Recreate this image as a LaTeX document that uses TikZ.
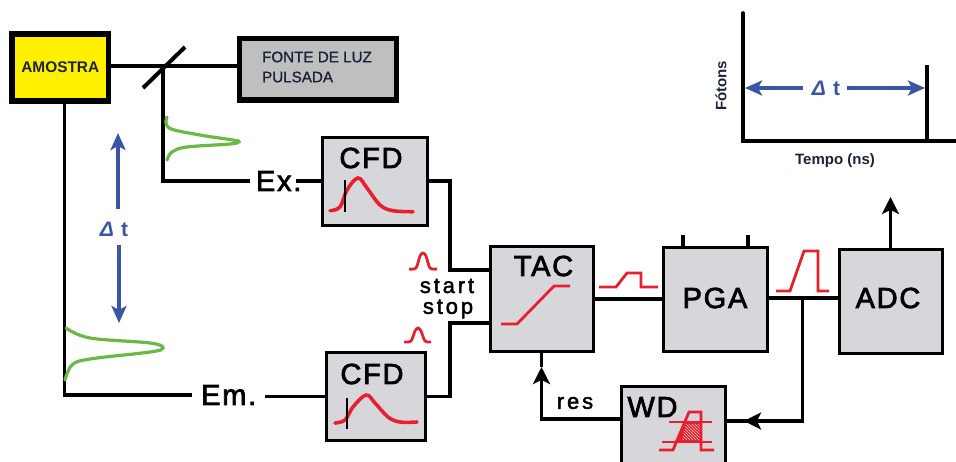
\documentclass[tikz,border=0pt]{standalone}
\usepackage{fontspec}
\usepackage{xcolor}
\setmainfont{Liberation Sans}
\newfontfamily\blockfont[LetterSpace=6,FakeBold=2.5]{Liberation Sans}
\newfontfamily\tagfont[LetterSpace=13,FakeBold=2]{Liberation Sans}
\newfontfamily\lampfont[FakeBold=1]{Liberation Sans}
\usetikzlibrary{arrows.meta,patterns}
\definecolor{blockgray}{HTML}{D7D7DB}
\definecolor{lampgray}{HTML}{BFBFBF}
\definecolor{samplefill}{HTML}{FFF000}
\definecolor{pulsegreen}{HTML}{6AB945}
\definecolor{tracered}{HTML}{E8202E}
\definecolor{deltablue}{HTML}{3B55A5}
\definecolor{inknavy}{HTML}{1A2438}
\begin{document}
\begin{tikzpicture}[
  x=1pt, y=-1pt,
  block/.style={draw, line width=3pt, fill=blockgray, inner sep=0pt},
  heavy/.style={draw, line width=5.5pt, inner sep=0pt},
  blocktext/.style={font=\blockfont\fontsize{29}{31}\selectfont, inner sep=0pt},
  tagtext/.style={font=\tagfont\fontsize{22}{24}\selectfont, inner sep=0pt},
  titletext/.style={font=\bfseries\fontsize{15}{17}\selectfont, text=inknavy, inner sep=0pt},
  deltatext/.style={font=\bfseries\fontsize{21}{23}\selectfont, text=deltablue, inner sep=0pt},
  link/.style={line width=3.2pt},
  linkarrow/.style={line width=3.2pt, -{Stealth[length=17pt, width=17pt, inset=4pt]}},
  delta/.style={line width=3.2pt, draw=deltablue, -{Stealth[length=17pt, width=15pt, inset=4pt]}},
  trace/.style={line width=2.8pt, draw=tracered},
  cfdtrace/.style={line width=3.6pt, draw=tracered, line cap=round},
  greenpulse/.style={line width=3.2pt, draw=pulsegreen, line cap=round}
]
\useasboundingbox (0,0) rectangle (956,461);

\node[heavy, fill=samplefill, minimum width=96.5pt, minimum height=67pt, font=\bfseries\fontsize{15.4}{17}\selectfont, text=inknavy] (amostra) at (60.25,67.5) {AMOSTRA};
\node[heavy, fill=lampgray, minimum width=157pt, minimum height=61.5pt] (fonte) at (318,69.25) {};
\node[align=left, inner sep=0pt, font=\lampfont\fontsize{15.2}{20}\selectfont, text=inknavy] (fontetext) at (317,67) {FONTE DE LUZ\\PULSADA};

\node[block, minimum width=105pt, minimum height=88pt] (cfdex) at (375,181) {};
\node[block, minimum width=99pt, minimum height=88.5pt] (cfdem) at (376,396.5) {};
\node[block, minimum width=103pt, minimum height=105pt] (tac) at (541.5,298.5) {};
\node[block, minimum width=104pt, minimum height=104pt] (pga) at (715,299) {};
\node[block, minimum width=103pt, minimum height=104pt] (adc) at (890.5,301) {};
\node[block, minimum width=104pt, minimum height=82pt] (wd) at (673,427) {};

\node[blocktext] (cfdextext) at (371,158) {CFD};
\node[blocktext] (cfdemtext) at (372,374) {CFD};
\node[blocktext] (tactext) at (543.5,266) {TAC};
\node[blocktext] (pgatext) at (715,298) {PGA};
\node[blocktext] (adctext) at (888,298) {ADC};
\node[blocktext] (wdtext) at (652.5,407) {WD};

\node[blocktext, inner xsep=6pt] (exlabel) at (278.7,181) {Ex.};
\node[blocktext, inner xsep=9pt] (emlabel) at (228.7,395) {Em.};
\node[tagtext] (startlabel) at (447,286) {start};
\node[tagtext] (stoplabel) at (448,309) {stop};
\node[tagtext] (reslabel) at (575,403) {res};

\coordinate (split) at (163,66);
\coordinate (mirrorlow) at (143,88);
\coordinate (mirrorhigh) at (185,47);
\coordinate (emdrop) at (64.5,104);
\coordinate (exgap) at (296,181);
\coordinate (startbend) at (450,270);
\coordinate (stopbend) at (450,323);
\coordinate (tacstart) at (490,270);
\coordinate (tacstop) at (490,323);
\coordinate (branch) at (802.5,298);
\coordinate (wdin) at (725,421);
\coordinate (wdtip) at (744,421);
\coordinate (wdout) at (621,419);
\coordinate (restip) at (541.5,367);
\coordinate (adcout) at (890.5,197);
\coordinate (pgaleft) at (683,235);
\coordinate (pgaright) at (748,235);

\draw[link] (split -| amostra.east) -- (split -| fonte.west);
\draw[line width=4pt] (mirrorlow) -- (mirrorhigh);
\draw[link] (split) |- (exlabel.west);
\draw[link] (exgap) -- (cfdex.west);
\draw[link] (emdrop) |- (emlabel.west);
\draw[link] (emlabel.east |- cfdem.west) -- (cfdem.west);
\draw[link] (cfdex.east) -| (startbend) -- (tacstart);
\draw[link] (cfdem.east) -| (stopbend) -- (tacstop);
\draw[link] (tac.east |- pga.west) -- (pga.west);
\draw[link] (pga.east |- branch) -- (adc.west |- branch);
\draw[link] (pgaleft) -- (pgaleft |- pga.north);
\draw[link] (pgaright) -- (pgaright |- pga.north);
\draw[link] (branch) |- (wdtip);
\draw[linkarrow] (wdtip -| branch) -- (wdtip);
\draw[link] (wdtip) -- (wdin);
\draw[linkarrow] (wdout) -| (restip);
\draw[link] (restip) -- (tac.south);
\draw[linkarrow] (adc.north -| adcout) -- (adcout);

\draw[greenpulse] plot[smooth, tension=0.6] coordinates {(167,117) (169,128) (200,135) (233,140) (239,141.7) (230,144) (187,147) (172,152) (167,160)};
\draw[greenpulse] plot[smooth, tension=0.6] coordinates {(66,328) (90,338) (150,343) (163,348) (150,352) (90,359) (72,365) (65,380)};

\draw[cfdtrace] plot[smooth, tension=0.6] coordinates {(330,210.7) (340,207) (347,190) (358,178) (367,188) (380,205) (393,210.7) (413,211.7)};
\draw[line width=2pt] (345,180) -- (345,212);
\draw[cfdtrace] plot[smooth, tension=0.6] coordinates {(335,423) (345,420) (353,407) (366,395) (375,403) (388,417) (400,422) (417,422)};
\draw[line width=2pt] (347,398) -- (347,429);

\draw[trace] plot[smooth, tension=0.5] coordinates {(409,269) (416,268) (420,256) (423,253) (426,256) (430,268) (437,269)};
\draw[trace] plot[smooth, tension=0.5] coordinates {(404,342) (411,341) (415,331) (418,328) (421,331) (425,341) (431,342)};
\draw[trace] (501,324) -- (517,324) -- (554,286) -- (570,286);
\draw[trace] (599,287) -- (616,287) -- (627,273) -- (641,273) -- (641,287) -- (658,287);
\draw[trace] (776,291) -- (790,291) -- (804,251) -- (818,251) -- (818,291) -- (829,291);

\fill[tracered] (684,422) -- (701,422) -- (701,442) -- (675,442) -- cycle;
\fill[pattern=north west lines, pattern color=white!75!tracered] (686,424) -- (700,424) -- (700,440) -- (682,440) -- cycle;
\draw[trace] (659,450) -- (673,450) -- (689,412) -- (701,412) -- (701,450) -- (714,450);
\draw[trace] (669,422) -- (712,422);
\draw[trace] (662,442) -- (712,442);

\node[deltatext] (deltaleft) at (114,229) {\textit{Δ}\hspace{7pt}t};
\coordinate (uptail) at (118,209);
\coordinate (uptip) at (118,133);
\coordinate (downtail) at (119,245);
\coordinate (downtip) at (119,323);
\draw[delta] (uptail) -- (uptip);
\draw[delta] (downtail) -- (downtip);

\coordinate (origin) at (743,141);
\coordinate (axistop) at (743,13);
\coordinate (axisend) at (956,141);
\coordinate (spiketop) at (927,65);
\draw[line width=3.6pt, line cap=round] (axistop) -- (origin) -- (axisend);
\draw[line width=4.2pt] (spiketop) -- (spiketop |- origin);
\node[deltatext] (deltatop) at (826,88) {\textit{Δ}\hspace{7pt}t};
\coordinate (lefttail) at (803,88);
\coordinate (lefttip) at (745,88);
\coordinate (righttail) at (847,88);
\coordinate (righttip) at (925,88);
\draw[delta] (lefttail) -- (lefttip);
\draw[delta] (righttail) -- (righttip);
\node[titletext, rotate=90] (fotons) at (721,86) {Fótons};
\node[titletext] (tempo) at (835,160.5) {Tempo (ns)};
\end{tikzpicture}
\end{document}
